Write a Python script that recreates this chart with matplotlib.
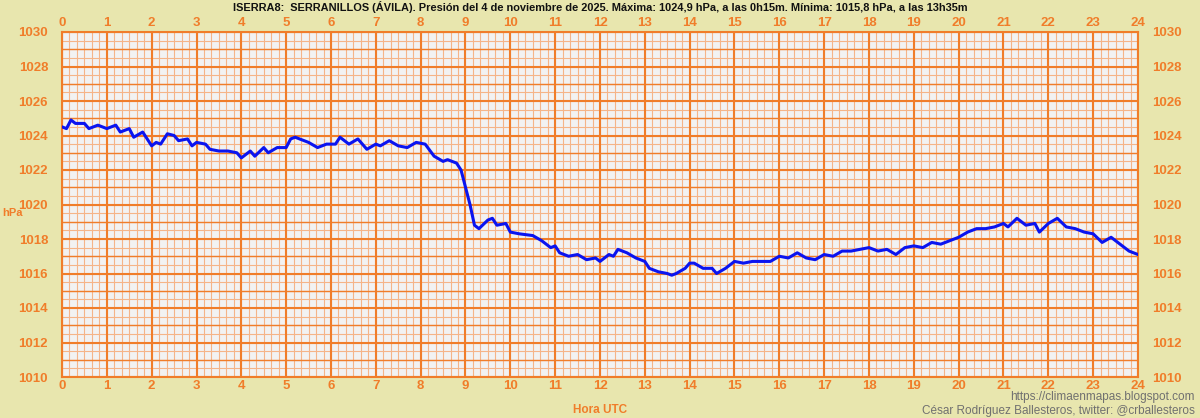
import numpy as np
import matplotlib.pyplot as plt

plt.rcParams['font.family'] = ['Liberation Sans', 'DejaVu Sans']

# hora UTC y presion (hPa)
horas = [0, 0.1, 0.2, 0.3, 0.5, 0.6, 0.8, 1.0, 1.2, 1.3, 1.5, 1.6, 1.8, 2.0, 2.1, 2.2, 2.35, 2.5, 2.6, 2.8,
         2.9, 3.0, 3.2, 3.3, 3.5, 3.7, 3.9, 4.0, 4.2, 4.3, 4.5, 4.6, 4.8, 5.0, 5.1, 5.2, 5.5, 5.7, 5.9, 6.1,
         6.2, 6.4, 6.6, 6.8, 7.0, 7.1, 7.3, 7.5, 7.7, 7.9, 8.1, 8.3, 8.5, 8.6, 8.8, 8.9, 9.0, 9.1, 9.2, 9.3,
         9.5, 9.6, 9.7, 9.9, 10.0, 10.2, 10.5, 10.7, 10.9, 11.0, 11.1, 11.3, 11.5, 11.7, 11.9, 12.0, 12.2, 12.3,
         12.4, 12.6, 12.8, 13.0, 13.1, 13.3, 13.5, 13.6, 13.7, 13.9, 14.0, 14.1, 14.3, 14.5, 14.6, 14.8, 15.0,
         15.2, 15.4, 15.6, 15.8, 16.0, 16.2, 16.4, 16.6, 16.8, 17.0, 17.2, 17.4, 17.6, 17.8, 18.0, 18.2, 18.4,
         18.6, 18.8, 19.0, 19.2, 19.4, 19.6, 19.8, 20.0, 20.2, 20.4, 20.6, 20.8, 21.0, 21.1, 21.3, 21.5, 21.7,
         21.8, 22.0, 22.2, 22.4, 22.6, 22.8, 23.0, 23.2, 23.4, 23.6, 23.8, 24.0]
presion = [1024.5, 1024.4, 1024.9, 1024.7, 1024.7, 1024.4, 1024.6, 1024.4, 1024.6, 1024.2, 1024.4, 1023.9,
           1024.2, 1023.4, 1023.6, 1023.5, 1024.1, 1024.0, 1023.7, 1023.8, 1023.4, 1023.6, 1023.5, 1023.2,
           1023.1, 1023.1, 1023.0, 1022.7, 1023.1, 1022.8, 1023.3, 1023.0, 1023.3, 1023.3, 1023.8, 1023.9,
           1023.6, 1023.3, 1023.5, 1023.5, 1023.9, 1023.5, 1023.8, 1023.2, 1023.5, 1023.4, 1023.7, 1023.4,
           1023.3, 1023.6, 1023.5, 1022.8, 1022.5, 1022.6, 1022.4, 1022.0, 1021.0, 1020.0, 1018.8, 1018.6,
           1019.1, 1019.2, 1018.8, 1018.9, 1018.4, 1018.3, 1018.2, 1017.9, 1017.5, 1017.6, 1017.2, 1017.0,
           1017.1, 1016.8, 1016.9, 1016.7, 1017.1, 1017.0, 1017.4, 1017.2, 1016.9, 1016.7, 1016.3, 1016.1,
           1016.0, 1015.9, 1016.0, 1016.3, 1016.6, 1016.6, 1016.3, 1016.3, 1016.0, 1016.3, 1016.7, 1016.6,
           1016.7, 1016.7, 1016.7, 1017.0, 1016.9, 1017.2, 1016.9, 1016.8, 1017.1, 1017.0, 1017.3, 1017.3,
           1017.4, 1017.5, 1017.3, 1017.4, 1017.1, 1017.5, 1017.6, 1017.5, 1017.8, 1017.7, 1017.9, 1018.1,
           1018.4, 1018.6, 1018.6, 1018.7, 1018.9, 1018.7, 1019.2, 1018.8, 1018.9, 1018.4, 1018.9, 1019.2,
           1018.7, 1018.6, 1018.4, 1018.3, 1017.8, 1018.1, 1017.7, 1017.3, 1017.1]

naranja = '#F07D2A'
fondo = '#E8E6AE'

fig = plt.figure(figsize=(12, 4.18), dpi=100, facecolor=fondo)
ax = fig.add_axes([62/1200, 1 - 377/418, (1138-62)/1200, (377-32)/418])
ax.set_facecolor('#F2F2F2')
ax.set_xlim(0, 24)
ax.set_ylim(1010, 1030)

# rejilla
for x in np.arange(0, 24.01, 1/6):
    ax.axvline(x, color='#F5B488', lw=0.8, zorder=1)
for y in np.arange(1010, 1030.01, 0.5):
    ax.axhline(y, color='#F5B488', lw=0.8, zorder=1)
for y in np.arange(1011, 1030, 2):
    ax.axhline(y, color=naranja, lw=1.0, zorder=1)
for x in range(25):
    ax.axvline(x, color=naranja, lw=1.5, zorder=2)
for y in range(1010, 1031, 2):
    ax.axhline(y, color=naranja, lw=1.5, zorder=2)

ax.plot(horas, presion, color='#0A14F0', lw=2.2, zorder=3)

for s in ax.spines.values():
    s.set_color(naranja)
    s.set_linewidth(1.5)

ax.set_xticks(range(25))
ax.set_yticks(range(1010, 1031, 2))
ax.tick_params(length=0, colors=naranja, labelsize=9.5, pad=2,
               top=True, labeltop=True, right=True, labelright=True)
ax.tick_params(axis='y', pad=10)
for lab in ax.get_xticklabels() + ax.get_yticklabels():
    lab.set_fontweight('bold')

fig.text(0.5, 1 - 7/418, 'ISERRA8:  SERRANILLOS (ÁVILA). Presión del 4 de noviembre de 2025. Máxima: 1024,9 hPa, a las 0h15m. Mínima: 1015,8 hPa, a las 13h35m',
         ha='center', va='center', fontsize=7.9, fontweight='bold', color='#111111')
fig.text(2/1200, 1 - 213/418, 'hPa', ha='left', va='center', fontsize=8, fontweight='bold', color=naranja)
fig.text(0.5, 1 - 410/418, 'Hora UTC', ha='center', va='center', fontsize=8.5, fontweight='bold', color=naranja)
fig.text(1195/1200, 1 - 397/418, 'https://climaenmapas.blogspot.com', ha='right', va='center',
         fontsize=8.5, color='#707070')
fig.text(1195/1200, 1 - 411/418, 'César Rodríguez Ballesteros, twitter: @crballesteros', ha='right', va='center',
         fontsize=8.5, color='#707070')

fig.savefig('out.png', dpi=100, facecolor=fondo)
